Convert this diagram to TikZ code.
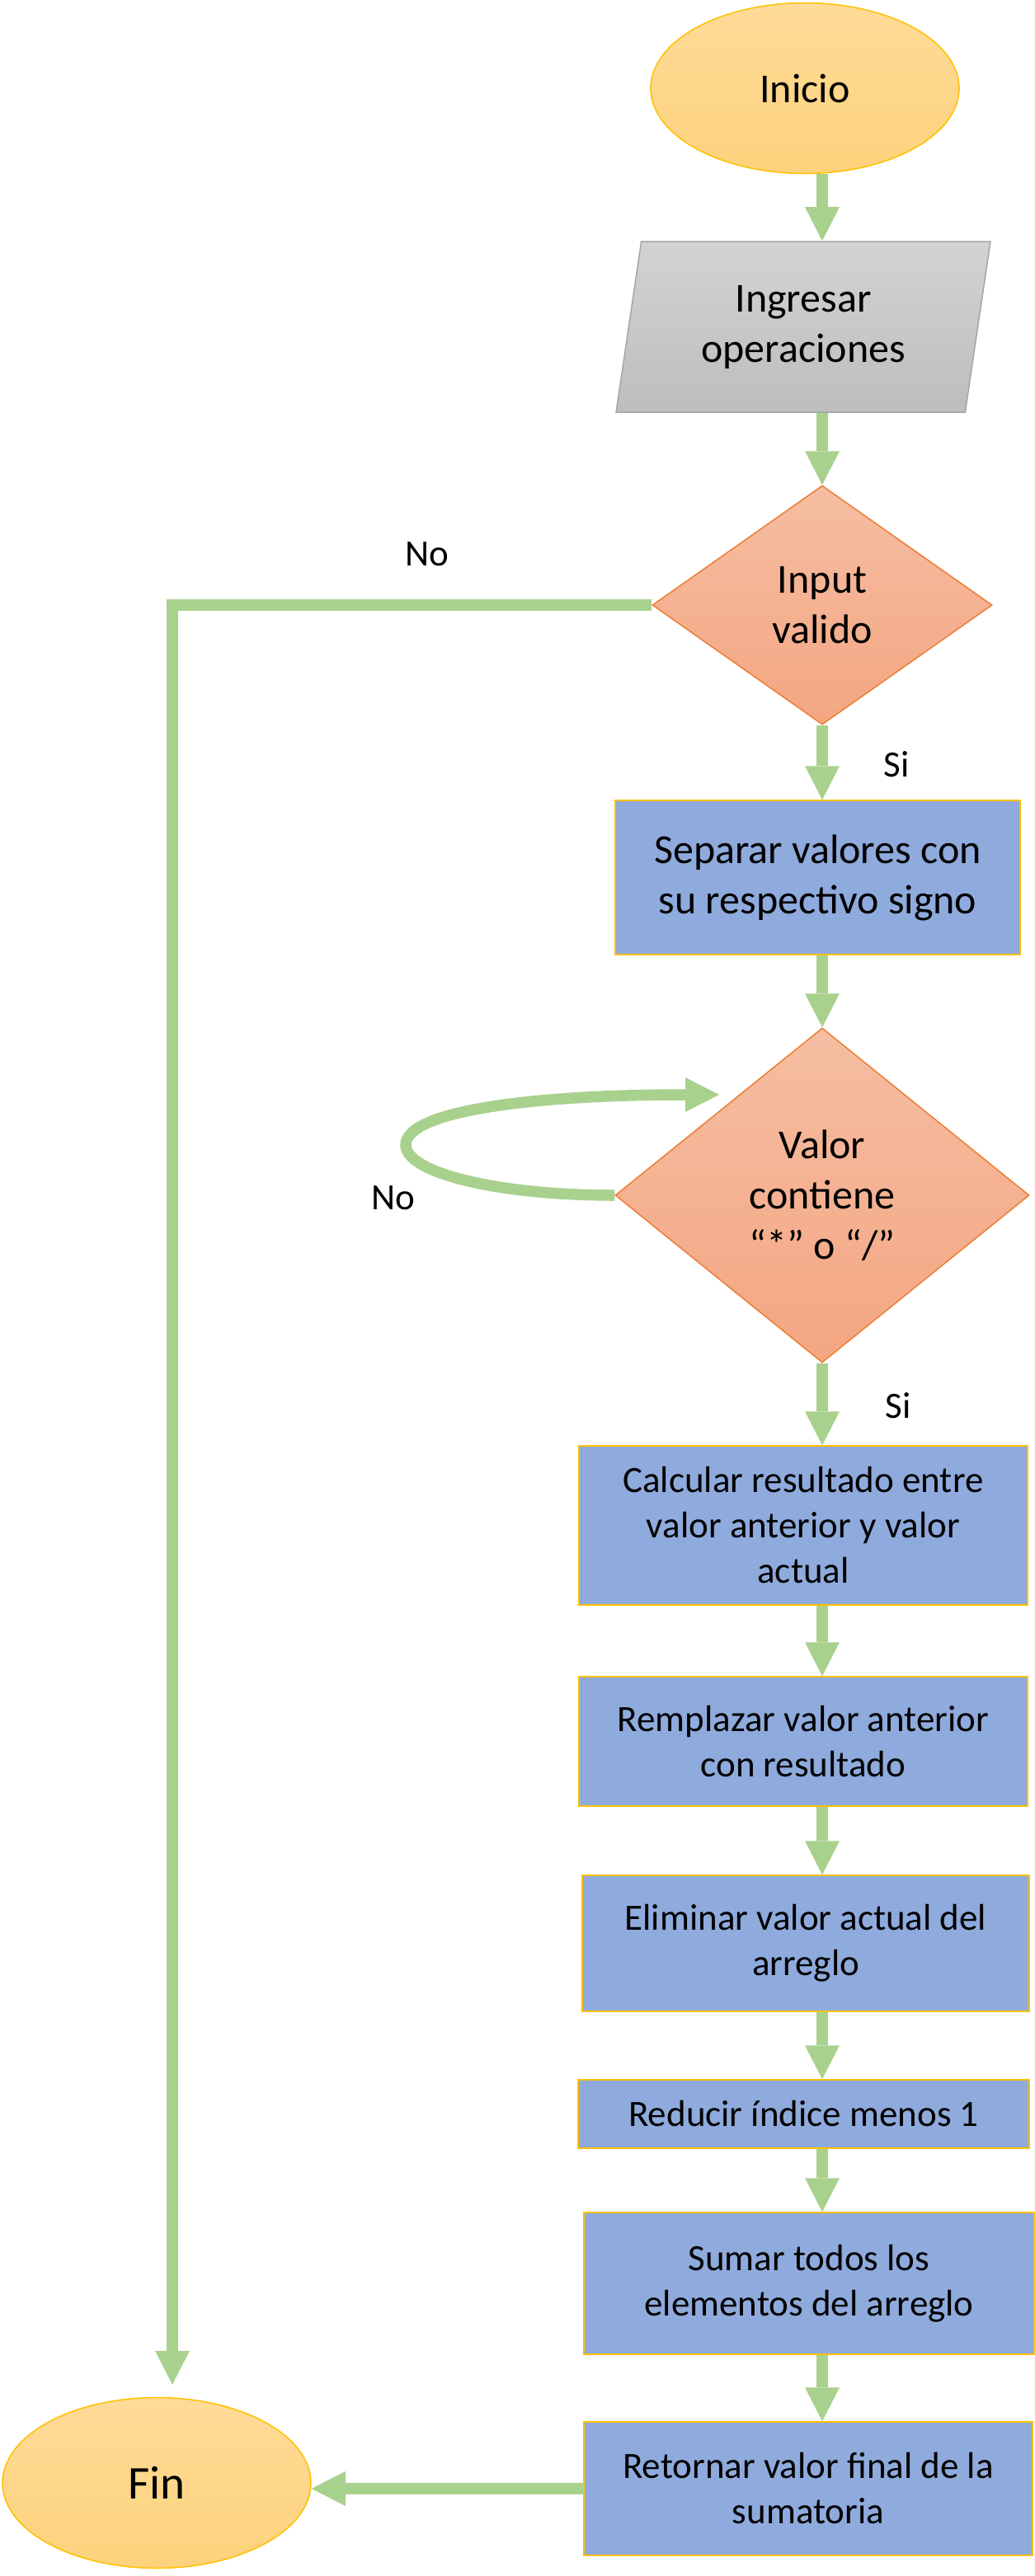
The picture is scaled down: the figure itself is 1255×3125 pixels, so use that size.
\documentclass[tikz,border=0pt]{standalone}
\usepackage{fontspec}
\setmainfont{Carlito}
\usetikzlibrary{shapes.geometric,arrows.meta,calc}

\definecolor{verde}{HTML}{A9D18E}
\definecolor{oro}{HTML}{FFC000}
\definecolor{azul}{HTML}{8FAADC}
\definecolor{naranja}{HTML}{ED7D31}
\definecolor{amarilloA}{HTML}{FEDB98}
\definecolor{amarilloB}{HTML}{FDD27C}
\definecolor{grisA}{HTML}{D3D3D3}
\definecolor{grisB}{HTML}{BDBDBD}
\definecolor{grisborde}{HTML}{A5A5A5}
\definecolor{salmonA}{HTML}{F5BEA2}
\definecolor{salmonB}{HTML}{F4A682}

\tikzset{
    terminal/.style={ellipse, draw=oro, line width=1.5pt,
        top color=amarilloA, bottom color=amarilloB,
        minimum width=374pt, minimum height=207pt,
        font=\fontsize{50}{61}\selectfont},
    entrada/.style={trapezium, trapezium left angle=79.6,
        trapezium right angle=100.4, trapezium stretches=true,
        draw=grisborde, line width=1.5pt,
        top color=grisA, bottom color=grisB,
        minimum width=454pt, minimum height=207pt, align=center,
        font=\fontsize{50}{61}\selectfont},
    decision/.style={diamond, draw=naranja, line width=1.5pt,
        top color=salmonA, bottom color=salmonB, inner sep=2pt,
        align=center, font=\fontsize{50}{61}\selectfont},
    proceso/.style={rectangle, draw=oro, line width=1.5pt, fill=azul,
        align=center, font=\fontsize{45}{55}\selectfont},
    flecha/.style={draw=verde, line width=13.5pt,
        -{Triangle[width=42pt,length=41pt,line width=0pt]}},
    etiqueta/.style={font=\fontsize{45}{55}\selectfont}
}

\begin{document}
\begin{tikzpicture}[x=1pt,y=-1pt]
    \useasboundingbox (0,0) rectangle (1255,3125);
    \coordinate (eje) at (997,0);
    \node[terminal] (ini) at (976,107) {Inicio};
    \node[entrada] (ent) at (974,396.5) {Ingresar\\operaciones};
    \node[decision, minimum width=412pt, minimum height=290pt]
        (val1) at (997,734) {Input\\valido};
    \node[proceso, font=\fontsize{50}{61}\selectfont,
        minimum width=491pt, minimum height=187pt]
        (sep) at (991.5,1064.5) {Separar valores con\\su respectivo signo};
    \node[decision, minimum width=502pt, minimum height=406pt]
        (val2) at (997,1450) {Valor\\contiene\\“*” o “/”};
    \node[proceso, minimum width=544pt, minimum height=193pt]
        (calc) at (974,1850.5)
        {Calcular resultado entre\\valor anterior y valor\\actual};
    \node[proceso, minimum width=544pt, minimum height=157pt]
        (rem) at (974,2112.5) {Remplazar valor anterior\\con resultado};
    \node[proceso, minimum width=542pt, minimum height=165pt]
        (eli) at (977,2357.5) {Eliminar valor actual del\\arreglo};
    \node[proceso, minimum width=547pt, minimum height=83pt]
        (red) at (974.5,2564.5) {Reducir índice menos 1};
    \node[proceso, minimum width=546pt, minimum height=172pt]
        (sum) at (981,2770) {Sumar todos los\\elementos del arreglo};
    \node[proceso, minimum width=544pt, minimum height=162pt]
        (ret) at (980,3019) {Retornar valor final de la\\sumatoria};
    \node[terminal, font=\fontsize{57}{70}\selectfont]
        (fin) at (190,3012) {Fin};

    % etiquetas
    \node[etiqueta] (no1) at (518,672) {No};
    \node[etiqueta] (si1) at (1087,927) {Si};
    \node[etiqueta] (no2) at (477,1453) {No};
    \node[etiqueta] (si2) at (1089,1705) {Si};

    % flechas
    \draw[flecha] (ini.south -| eje) -- (ent.north -| eje);
    \draw[flecha] (ent.south -| eje) -- (val1.north);
    \draw[flecha] (val1.south) -- (sep.north -| val1.south);
    \draw[flecha] (sep.south -| eje) -- (val2.north);
    \draw[flecha] (val2.south) -- (calc.north -| eje);
    \draw[flecha] (calc.south -| eje) -- (rem.north -| eje);
    \draw[flecha] (rem.south -| eje) -- (eli.north -| eje);
    \draw[flecha] (eli.south -| eje) -- (red.north -| eje);
    \draw[flecha] (red.south -| eje) -- (sum.north -| eje);
    \draw[flecha] (sum.south -| eje) -- (ret.north -| eje);
    \draw[flecha] (ret.west) -- (ret.west -| fin.east);

    \coordinate (codo) at (209,734);
    \draw[flecha, shorten >=15pt] (val1.west) -- (codo) -- (codo |- fin.north);

    \coordinate (lazo) at (492,1389);
    \coordinate (lazofin) at (872,1328);
    \draw[flecha] (val2.west) .. controls (600,1450) and (492,1422) .. (lazo)
        .. controls (492,1347) and (650,1328) .. (lazofin);
\end{tikzpicture}
\end{document}
